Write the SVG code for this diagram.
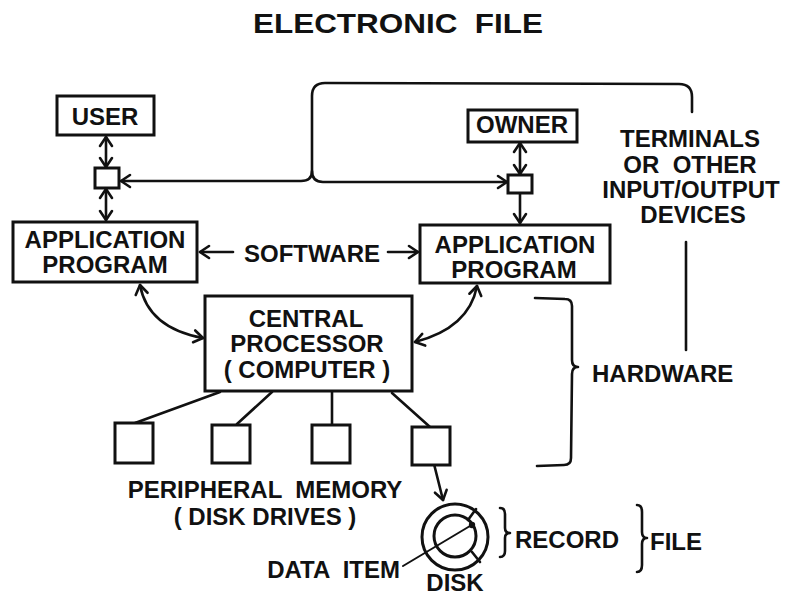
<svg xmlns="http://www.w3.org/2000/svg" width="786" height="595" viewBox="0 0 786 595">
  <defs>
    <marker id="arr" viewBox="-12 -8 14 16" refX="0" refY="0" markerWidth="14" markerHeight="16" markerUnits="userSpaceOnUse" orient="auto-start-reverse">
      <path d="M-9,-6 L0,0 L-9,6" fill="none" stroke="#111" stroke-width="2.6" stroke-linecap="round" stroke-linejoin="round"/>
    </marker>
  </defs>
  <style>
    .box { fill: #fff; stroke: #111; stroke-width: 3; }
    .ln { fill: none; stroke: #111; stroke-width: 2.6; stroke-linecap: round; stroke-linejoin: round; }
    .t { font-family: "Liberation Sans", Arial, Helvetica, sans-serif; font-weight: bold; font-size: 24px; fill: #111; }
    .c { text-anchor: middle; }
    .e { text-anchor: end; }
  </style>
  <rect width="786" height="595" fill="#fff"/>

  <g id="title">
    <text class="t" x="253" y="33" style="font-size:28px" textLength="290" lengthAdjust="spacingAndGlyphs" xml:space="preserve">ELECTRONIC  FILE</text>
  </g>

  <!-- connectors -->
  <g id="connectors">
    <!-- user / owner to their terminals -->
    <path class="ln" d="M106,137 L106,167" marker-start="url(#arr)" marker-end="url(#arr)"/>
    <path class="ln" d="M106,189 L106,220" marker-start="url(#arr)" marker-end="url(#arr)"/>
    <path class="ln" d="M520,143 L520,174" marker-start="url(#arr)" marker-end="url(#arr)"/>
    <path class="ln" d="M520,194 L520,223" marker-end="url(#arr)"/>
    <!-- terminals bracket -->
    <path class="ln" d="M121,181 L301,181 Q312,181 312,171 L312,96 Q312,83 325,83 L679,84 Q692,84 692,97 L692,112" marker-start="url(#arr)"/>
    <path class="ln" d="M312,171 Q312,182 323,182 L507,182" marker-end="url(#arr)"/>
    <path class="ln" d="M686,242 L686,350"/>
    <!-- software arrows -->
    <path class="ln" d="M233,252 L200,252" marker-end="url(#arr)"/>
    <path class="ln" d="M388,252 L418,252" marker-end="url(#arr)"/>
    <!-- application programs to central processor -->
    <path class="ln" d="M140,285 Q148,328 203,338" marker-start="url(#arr)" marker-end="url(#arr)"/>
    <path class="ln" d="M477,286 Q469,328 415,342" marker-start="url(#arr)" marker-end="url(#arr)"/>
    <!-- processor to disk drives -->
    <path class="ln" d="M220,392 L135,423"/>
    <path class="ln" d="M272,392 L237,424"/>
    <path class="ln" d="M332,392 L332,425"/>
    <path class="ln" d="M392,393 L430,427"/>
    <!-- drive to disk -->
    <path class="ln" d="M430,457 Q434,460 434,464 L443,500" marker-end="url(#arr)"/>
    <!-- data item pointer -->
    <path class="ln" d="M403,566 L470,526" style="stroke-width:2"/>
  </g>

  <g id="user">
    <rect class="box" x="57" y="96" width="97" height="39"/>
    <text class="t c" x="105" y="125">USER</text>
  </g>
  <g id="owner">
    <rect class="box" x="468" y="110" width="109" height="32"/>
    <text class="t c" x="522" y="133">OWNER</text>
  </g>
  <g id="terminal-user">
    <rect class="box" x="95" y="168" width="24" height="20"/>
  </g>
  <g id="terminal-owner">
    <rect class="box" x="508" y="175" width="24" height="18"/>
  </g>
  <g id="terminals-label">
    <text class="t c" x="690" y="147">TERMINALS</text>
    <text class="t c" x="690" y="173" xml:space="preserve">OR  OTHER</text>
    <text class="t c" x="691" y="198">INPUT/OUTPUT</text>
    <text class="t c" x="693" y="223">DEVICES</text>
  </g>
  <g id="app-left">
    <rect class="box" x="13" y="222" width="184" height="60"/>
    <text class="t c" x="105" y="248">APPLICATION</text>
    <text class="t c" x="105" y="273">PROGRAM</text>
  </g>
  <g id="app-right">
    <rect class="box" x="420" y="225" width="190" height="58"/>
    <text class="t c" x="515" y="253">APPLICATION</text>
    <text class="t c" x="514" y="278">PROGRAM</text>
  </g>
  <g id="software-label">
    <text class="t c" x="312" y="262">SOFTWARE</text>
  </g>
  <g id="cpu">
    <rect class="box" x="205" y="296" width="207" height="95"/>
    <text class="t c" x="306" y="327">CENTRAL</text>
    <text class="t c" x="307" y="352">PROCESSOR</text>
    <text class="t c" x="307" y="378">( COMPUTER )</text>
  </g>
  <g id="hardware">
    <path class="ln" d="M535,298 L565,299 Q572,299 572,306 L572,360 Q572,367 578,367 Q572,367 572,374 L571,458 Q571,465 564,465 L537,466"/>
    <text class="t" x="592" y="382">HARDWARE</text>
  </g>
  <g id="drive-1"><rect class="box" x="115" y="423" width="38" height="40"/></g>
  <g id="drive-2"><rect class="box" x="212" y="425" width="38" height="38"/></g>
  <g id="drive-3"><rect class="box" x="312" y="425" width="38" height="38"/></g>
  <g id="drive-4"><rect class="box" x="412" y="427" width="38" height="38"/></g>
  <g id="peripheral-label">
    <text class="t c" x="265" y="498" xml:space="preserve">PERIPHERAL  MEMORY</text>
    <text class="t c" x="265" y="525">( DISK DRIVES )</text>
  </g>
  <g id="disk">
    <circle class="ln" cx="455" cy="537" r="33" style="stroke-width:3"/>
    <circle class="ln" cx="455" cy="536" r="21" style="stroke-width:3"/>
    <path class="ln" d="M468,520 L476,509"/>
    <path class="ln" d="M472,552 L480,562"/>
    <circle cx="472" cy="525" r="3.2" fill="#111"/>
    <text class="t c" x="455" y="591">DISK</text>
  </g>
  <g id="data-item">
    <text class="t e" x="400" y="578" xml:space="preserve">DATA  ITEM</text>
  </g>
  <g id="record">
    <path class="ln" d="M500,508 Q505,508 505,514 L505,528 Q505,533 510,533 Q505,533 505,538 L505,551 Q505,557 500,557"/>
    <text class="t" x="515" y="548">RECORD</text>
  </g>
  <g id="file">
    <path class="ln" d="M637,505 Q642,505 642,512 L642,532 Q642,538 647,538 Q642,538 642,544 L642,565 Q642,572 637,572"/>
    <text class="t" x="650" y="550">FILE</text>
  </g>
</svg>
